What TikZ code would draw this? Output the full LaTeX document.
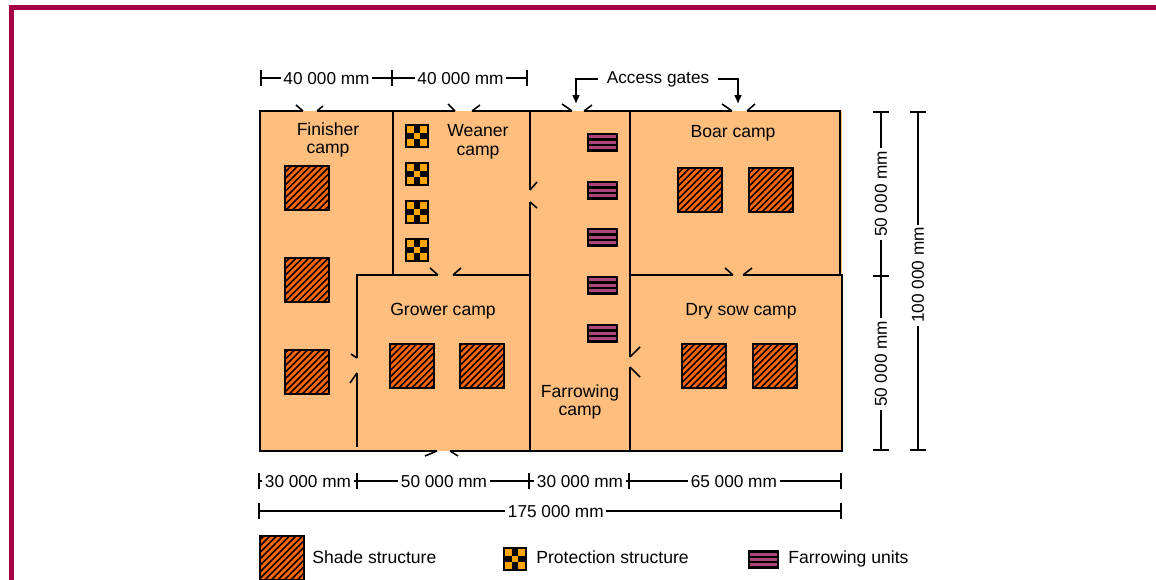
\documentclass[tikz,border=0pt]{standalone}
\usepackage{fontspec}
\setmainfont{Liberation Sans}
\usetikzlibrary{arrows.meta,patterns.meta}
\definecolor{campfill}{RGB}{255,190,125}
\definecolor{framecolor}{RGB}{165,0,68}
\definecolor{shadefill}{RGB}{255,102,0}
\definecolor{protfill}{RGB}{255,165,0}
\definecolor{unitfill}{RGB}{170,70,120}
\tikzset{
    wall/.style={black,line width=1.2pt,line cap=butt},
    gatetick/.style={black,line width=0.9pt},
    dimline/.style={black,line width=0.9pt,{Bar[width=9pt,line width=0.9pt]}-{Bar[width=9pt,line width=0.9pt]}},
    dimnext/.style={black,line width=0.9pt,-{Bar[width=9pt,line width=0.9pt]}},
    dimtext/.style={fill=white,inner sep=1.5pt,yshift=-0.5pt,font=\fontsize{9.8}{11}\selectfont},
    camptext/.style={align=center,font=\fontsize{10}{10.6}\selectfont},
    legendtext/.style={anchor=base west,inner sep=0pt,font=\fontsize{10}{12}\selectfont},
}
\newcommand{\shadebox}[2]{%
    \fill[shadefill] (#1,#2) rectangle ++(44,44);
    \fill[pattern={Lines[angle=45,distance=2.6pt,line width=0.9pt]},pattern color=black] (#1,#2) rectangle ++(44,44);
    \draw[black,line width=0.9pt] (#1,#2) rectangle ++(44,44);
}
\newcommand{\protbox}[2]{%
    \fill[black] (#1,#2) rectangle ++(24,24);
    \foreach \i/\j in {0/0,2/0,1/1,0/2,2/2}
        \fill[protfill] ({#1+2+\i*6.67},{#2+2+\j*6.67}) rectangle ++(6.67,6.67);
}
\newcommand{\unitbox}[2]{%
    \fill[black] (#1,#2) rectangle ++(31,19);
    \foreach \j in {0,1,2}
        \fill[unitfill] ({#1+2},{#2+2.5+\j*5.2}) rectangle ++(27,3);
}
\begin{document}
\begin{tikzpicture}[x=0.02cm,y=-0.02cm]
    \useasboundingbox (0,0) rectangle (1156,580);

    % frame
    \fill[framecolor] (9,5) rectangle (1156,10);
    \fill[framecolor] (9,5) rectangle (14,580);

    % site
    \fill[campfill] (260,111) rectangle (842,451);

    % outer walls
    \draw[wall] (303,111) -- (260,111) -- (260,451) -- (437,451);
    \draw[wall] (317,111) -- (455,111);
    \draw[wall] (472,111) -- (572,111);
    \draw[wall] (584,111) -- (732,111);
    \draw[wall] (747,111) -- (840,111) -- (840,275) -- (842,275) -- (842,451) -- (450,451);

    % inner walls
    \draw[wall] (393,111) -- (393,275);
    \draw[wall] (530,111) -- (530,190);
    \draw[wall] (530,202) -- (530,451);
    \draw[wall] (630,111) -- (630,357);
    \draw[wall] (630,367) -- (630,451);
    \draw[wall] (357,358) -- (357,275) -- (438,275);
    \draw[wall] (357,373) -- (357,447);
    \draw[wall] (453,275) -- (530,275);
    \draw[wall] (630,275) -- (733,275);
    \draw[wall] (743,275) -- (840,275);

    % gates
    \draw[gatetick] (303,111) -- (296,105);
    \draw[gatetick] (317,111) -- (323,106);
    \draw[gatetick] (455,111) -- (448,104);
    \draw[gatetick] (472,111) -- (480,105);
    \draw[gatetick] (572,111) -- (562,104);
    \draw[gatetick] (584,111) -- (592,105);
    \draw[gatetick] (732,111) -- (722,104);
    \draw[gatetick] (747,111) -- (755,104);
    \draw[gatetick] (530,190) -- (537,182);
    \draw[gatetick] (530,202) -- (537,208);
    \draw[gatetick] (438,275) -- (430,268);
    \draw[gatetick] (453,275) -- (461,268);
    \draw[gatetick] (733,275) -- (725,268);
    \draw[gatetick] (743,275) -- (752,268);
    \draw[gatetick] (357,358) -- (351,354);
    \draw[gatetick] (357,373) -- (350,383);
    \draw[gatetick] (630,357) -- (640,347);
    \draw[gatetick] (630,367) -- (640,377);
    \draw[gatetick] (437,451) -- (425,456);
    \draw[gatetick] (450,451) -- (458,456);

    % structures
    \foreach \x/\y in {285/166,285/258,285/350,678/168,749/168,390/344,460/344,682/344,753/344,260/536}
        {\shadebox{\x}{\y}}
    \foreach \x/\y in {405/124,405/162,405/200,405/238,503/547}
        {\protbox{\x}{\y}}
    \foreach \x/\y in {587/133,587/181,587/228,587/276,587/324,748/550}
        {\unitbox{\x}{\y}}

    % camp names
    \node[camptext] (finisher) at (328,140) {Finisher\\camp};
    \node[camptext] (weaner) at (478,142) {Weaner\\camp};
    \node[camptext] (boar) at (733,133) {Boar camp};
    \node[camptext] (grower) at (443,311) {Grower camp};
    \node[camptext] (drysow) at (741,311) {Dry sow camp};
    \node[camptext] (farrowing) at (580,402) {Farrowing\\camp};

    % access gates
    \node[dimtext,inner xsep=5pt] (access) at (658,78) {Access gates};
    \coordinate (gateleft) at (576,104);
    \coordinate (gateright) at (738,104);
    \draw[gatetick,-{Latex[length=5pt,width=4.5pt]}] (access.west) -| (gateleft);
    \draw[gatetick,-{Latex[length=5pt,width=4.5pt]}] (access.east) -| (gateright);

    % dimensions
    \draw[dimline] (260,78) -- node[dimtext] (dimfinisher) {40 000 mm} (393,78);
    \draw[dimnext] (393,78) -- node[dimtext] (dimweaner) {40 000 mm} (528,78);
    \draw[dimline] (258,481) -- node[dimtext] (dimbottoma) {30 000 mm} (358,481);
    \draw[dimnext] (358,481) -- node[dimtext] (dimbottomb) {50 000 mm} (530,481);
    \draw[dimnext] (530,481) -- node[dimtext] (dimbottomc) {30 000 mm} (630,481);
    \draw[dimnext] (630,481) -- node[dimtext,pos=0.49] (dimbottomd) {65 000 mm} (842,481);
    \draw[dimline] (258,511) -- node[dimtext,pos=0.51] (dimtotal) {175 000 mm} (842,511);
    \draw[dimline] (881,451) -- node[dimtext,rotate=90] (dimlower) {50 000 mm} (881,275);
    \draw[dimnext] (881,275) -- node[dimtext,rotate=90] (dimupper) {50 000 mm} (881,111);
    \draw[dimline] (918,451) -- node[dimtext,rotate=90,pos=0.52] (dimheight) {100 000 mm} (918,111);

    % legend
    \node[legendtext] (legshade) at (312,563) {Shade structure};
    \node[legendtext] (legprot) at (536,563) {Protection structure};
    \node[legendtext] (legunit) at (788,563) {Farrowing units};
\end{tikzpicture}
\end{document}
